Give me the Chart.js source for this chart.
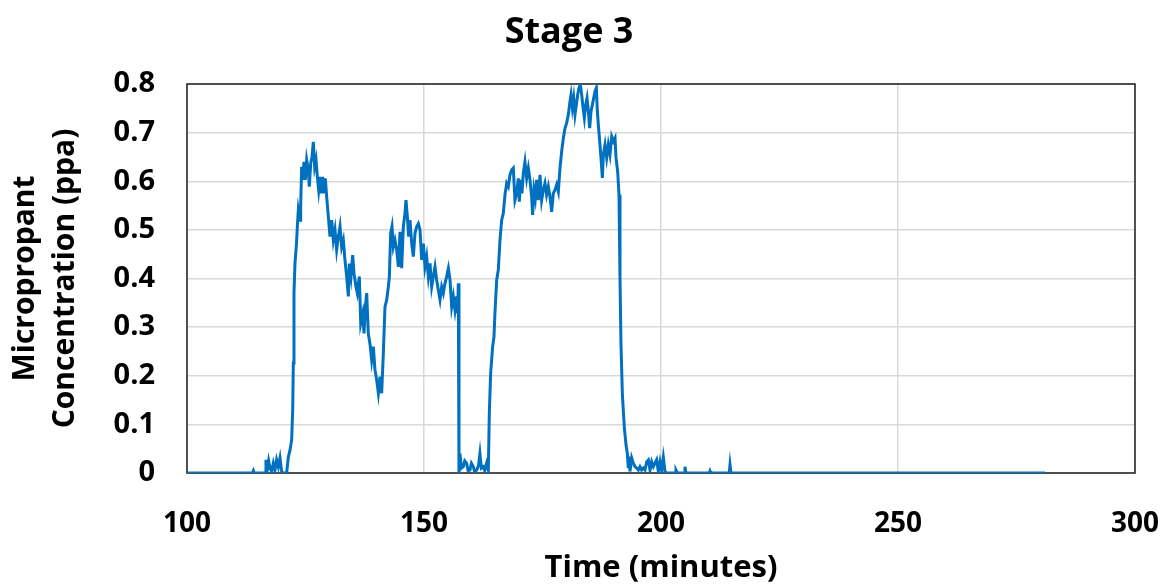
<!DOCTYPE html>
<html>
<head>
<meta charset="utf-8">
<script src="https://cdn.jsdelivr.net/npm/chart.js@4"></script>
<style>
  html, body { margin: 0; padding: 0; background: #ffffff; }
  #wrap { width: 1165px; height: 584px; }
</style>
</head>
<body>
<div id="wrap"><canvas id="c" width="1165" height="584"></canvas></div>
<script>
// Stage 3 micropropant concentration log
const chartTitle = 'Stage 3';
const xAxisTitle = 'Time (minutes)';
const yAxisTitle = ['Micropropant', 'Concentration (ppa)'];

const xTickLabels = ['100', '150', '200', '250', '300'];
const yTickLabels = ['0', '0.1', '0.2', '0.3', '0.4', '0.5', '0.6', '0.7', '0.8'];

// time stamps (minutes)
const timeMinutes = [
  100, 113.8, 114.0, 114.2, 116.5, 116.66, 116.94, 117.23, 117.51, 117.86,
  118.21, 118.56, 118.91, 119.27, 119.62, 119.97, 120.32, 121.02, 121.38, 121.73,
  122.08, 122.3, 122.43, 122.57, 122.78, 123.1, 123.28, 123.49, 123.84, 123.98,
  124.19, 124.4, 124.68, 124.96, 125.25, 125.6, 125.8, 126.1, 126.37, 126.65,
  126.94, 127.22, 127.5, 127.78, 128.06, 128.34, 128.62, 128.9, 129.18, 129.47,
  129.82, 130.17, 130.52, 130.87, 131.22, 131.57, 131.93, 132.28, 132.63, 132.98,
  133.33, 133.69, 134.04, 134.25, 134.6, 134.95, 135.23, 135.65, 135.93, 136.36,
  136.65, 137.07, 137.34, 137.62, 137.91, 138.25, 138.61, 138.96, 139.31, 139.66,
  140.02, 140.37, 140.72, 141.07, 141.42, 141.77, 142.13, 142.48, 142.69, 142.97,
  143.25, 143.53, 143.88, 144.24, 144.59, 144.94, 145.29, 145.64, 145.99, 146.2,
  146.49, 146.77, 147.05, 147.4, 147.75, 148.1, 148.46, 148.81, 149.16, 149.51,
  149.86, 150.21, 150.56, 150.92, 151.27, 151.62, 151.97, 152.32, 152.67, 153.03,
  153.38, 153.73, 154.08, 154.43, 154.78, 155.14, 155.49, 155.84, 156.19, 156.54,
  156.89, 157.1, 157.24, 157.38, 157.59, 157.9, 158.3, 158.6, 159.0, 159.3,
  159.7, 160.0, 160.4, 160.7, 161.1, 161.5, 161.8, 162.1, 162.5, 162.8,
  163.2, 163.57, 163.78, 164.06, 164.48, 164.76, 164.97, 165.33, 165.68, 166.03,
  166.38, 166.73, 167.08, 167.44, 167.79, 168.14, 168.49, 168.84, 169.19, 169.55,
  169.9, 170.11, 170.39, 170.67, 170.95, 171.3, 171.66, 172.01, 172.36, 172.71,
  172.92, 173.2, 173.48, 173.76, 174.12, 174.47, 174.82, 175.17, 175.52, 175.87,
  176.23, 176.58, 176.93, 177.28, 177.63, 177.99, 178.34, 178.69, 179.05, 179.4,
  179.75, 180.1, 180.45, 180.8, 181.02, 181.3, 181.58, 181.86, 182.14, 182.42,
  182.7, 182.98, 183.27, 183.55, 183.83, 184.11, 184.39, 184.67, 184.95, 185.24,
  185.52, 185.8, 186.08, 186.36, 186.57, 186.78, 187.13, 187.34, 187.63, 187.84,
  188.19, 188.54, 188.89, 189.24, 189.6, 189.95, 190.3, 190.51, 190.86, 191.14,
  191.35, 191.56, 191.85, 192.27, 192.62, 192.9, 193.11, 193.3, 193.46, 193.81,
  194.16, 194.51, 194.87, 195.22, 195.57, 195.92, 196.27, 196.62, 196.98, 197.33,
  197.68, 198.03, 198.38, 198.73, 199.08, 199.44, 199.79, 200.14, 200.49, 200.84,
  201.19, 203.0, 203.16, 203.45, 204.9, 205.06, 205.27, 210.2, 210.34, 210.5,
  214.4, 214.56, 214.77, 281.0
];

// concentration (ppa)
const concentration = [
  0, 0, 0.005, 0, 0, 0.027, 0.006, 0.025, 0.01, 0.003,
  0.02, 0.006, 0.027, 0.013, 0.031, 0.003, 0, 0, 0.033, 0.047,
  0.068, 0.13, 0.226, 0.37, 0.431, 0.472, 0.507, 0.541, 0.52, 0.548,
  0.63, 0.603, 0.64, 0.603, 0.644, 0.623, 0.589, 0.637, 0.65, 0.681,
  0.63, 0.644, 0.609, 0.582, 0.609, 0.575, 0.609, 0.575, 0.606, 0.568,
  0.527, 0.486, 0.52, 0.479, 0.5, 0.459, 0.486, 0.507, 0.465, 0.479,
  0.438, 0.404, 0.363, 0.431, 0.404, 0.448, 0.411, 0.383, 0.37, 0.404,
  0.308, 0.328, 0.287, 0.342, 0.37, 0.287, 0.265, 0.232, 0.26, 0.212,
  0.191, 0.164, 0.198, 0.164, 0.246, 0.342, 0.356, 0.383, 0.404, 0.493,
  0.507, 0.465, 0.479, 0.459, 0.424, 0.496, 0.421, 0.507, 0.534, 0.561,
  0.527, 0.486, 0.52, 0.472, 0.445, 0.493, 0.507, 0.513, 0.5, 0.438,
  0.472, 0.424, 0.445, 0.404, 0.431, 0.383, 0.404, 0.424, 0.397, 0.376,
  0.356, 0.383, 0.37, 0.39, 0.404, 0.421, 0.397, 0.342, 0.363, 0.335,
  0.363, 0.328, 0.39, 0, 0.04, 0.01, 0.013, 0.025, 0.02, 0.005,
  0.006, 0.02, 0.013, 0.002, 0.006, 0.015, 0.04, 0.01, 0.013, 0.005,
  0.02, 0.006, 0.123, 0.205, 0.26, 0.28, 0.329, 0.397, 0.418, 0.479,
  0.52, 0.534, 0.572, 0.596, 0.589, 0.613, 0.623, 0.627, 0.561, 0.575,
  0.606, 0.558, 0.603, 0.575, 0.616, 0.64, 0.606, 0.627, 0.603, 0.568,
  0.531, 0.582, 0.565, 0.603, 0.561, 0.613, 0.561, 0.582, 0.596, 0.572,
  0.589, 0.568, 0.537, 0.575, 0.582, 0.593, 0.579, 0.627, 0.662, 0.689,
  0.709, 0.72, 0.737, 0.764, 0.778, 0.751, 0.771, 0.737, 0.757, 0.778,
  0.792, 0.799, 0.778, 0.751, 0.73, 0.757, 0.771, 0.744, 0.709, 0.744,
  0.757, 0.771, 0.785, 0.792, 0.744, 0.716, 0.675, 0.648, 0.607, 0.655,
  0.675, 0.648, 0.675, 0.655, 0.692, 0.682, 0.689, 0.648, 0.62, 0.572,
  0.401, 0.264, 0.161, 0.093, 0.058, 0.04, 0.01, 0.034, 0.003, 0.031,
  0.02, 0.013, 0.01, 0.006, 0.013, 0.006, 0.01, 0.006, 0.023, 0.027,
  0.006, 0.023, 0.013, 0.02, 0.027, 0.003, 0.023, 0.006, 0.032, 0.003,
  0, 0, 0.006, 0, 0, 0.013, 0, 0, 0.004, 0,
  0, 0.017, 0, 0
];

const FONT = "'Open Sans', 'DejaVu Sans', sans-serif";
const points = timeMinutes.map((t, i) => ({ x: t, y: concentration[i] }));

// white page, chart title and the dark frame round the plot area
const pagePlugin = {
  id: 'page',
  beforeDraw(chart) {
    const ctx = chart.ctx;
    ctx.save();
    ctx.fillStyle = '#ffffff';
    ctx.fillRect(0, 0, chart.width, chart.height);
    ctx.restore();
  },
  beforeDatasetsDraw(chart) {
    const { ctx, chartArea: a } = chart;
    ctx.save();
    ctx.strokeStyle = '#2b2b2b';
    ctx.lineWidth = 1.6;
    ctx.strokeRect(a.left, a.top, a.right - a.left, a.bottom - a.top);
    ctx.restore();
  },
  afterDraw(chart) {
    const ctx = chart.ctx;
    ctx.save();
    ctx.fillStyle = '#000000';
    ctx.font = "bold 36px " + FONT;
    ctx.textAlign = 'center';
    ctx.textBaseline = 'alphabetic';
    ctx.fillText(chartTitle, 569, 43);
    ctx.restore();
  }
};

new Chart(document.getElementById('c'), {
  type: 'line',
  data: {
    datasets: [{
      data: points,
      borderColor: '#0070C0',
      borderWidth: 3,
      pointRadius: 0,
      tension: 0,
      fill: false
    }]
  },
  options: {
    responsive: false,
    animation: false,
    layout: { padding: { top: 84, right: 30, left: 0, bottom: 0 } },
    plugins: {
      legend: { display: false },
      tooltip: { enabled: false },
      title: { display: false }
    },
    scales: {
      x: {
        type: 'linear',
        min: 100,
        max: 300,
        afterFit(scale) {
          scale.height = 111;
          scale.paddingLeft = 0;
          scale.paddingRight = 0;
        },
        grid: { color: '#d9d9d9', lineWidth: 1.5, drawTicks: false },
        border: { display: false },
        ticks: {
          stepSize: 50,
          padding: 34,
          color: '#000000',
          font: { family: FONT, size: 28, weight: 'bold' },
          callback: (v, i) => xTickLabels[i]
        },
        title: {
          display: true,
          text: xAxisTitle,
          color: '#000000',
          font: { family: FONT, size: 31, weight: 'bold', lineHeight: 1.05 },
          padding: { top: 0, bottom: 0 }
        }
      },
      y: {
        min: 0,
        max: 0.8,
        afterFit(scale) { scale.width = 187; },
        grid: { color: '#d9d9d9', lineWidth: 1.5, drawTicks: false },
        border: { display: false },
        ticks: {
          stepSize: 0.1,
          padding: 32,
          color: '#000000',
          font: { family: FONT, size: 29, weight: 'bold' },
          callback: (v, i) => yTickLabels[i]
        },
        title: {
          display: true,
          text: yAxisTitle,
          color: '#000000',
          font: { family: FONT, size: 30, weight: 'bold', lineHeight: 1.33 },
          padding: { top: 6, bottom: 0 }
        }
      }
    }
  },
  plugins: [pagePlugin]
});
</script>
</body>
</html>
